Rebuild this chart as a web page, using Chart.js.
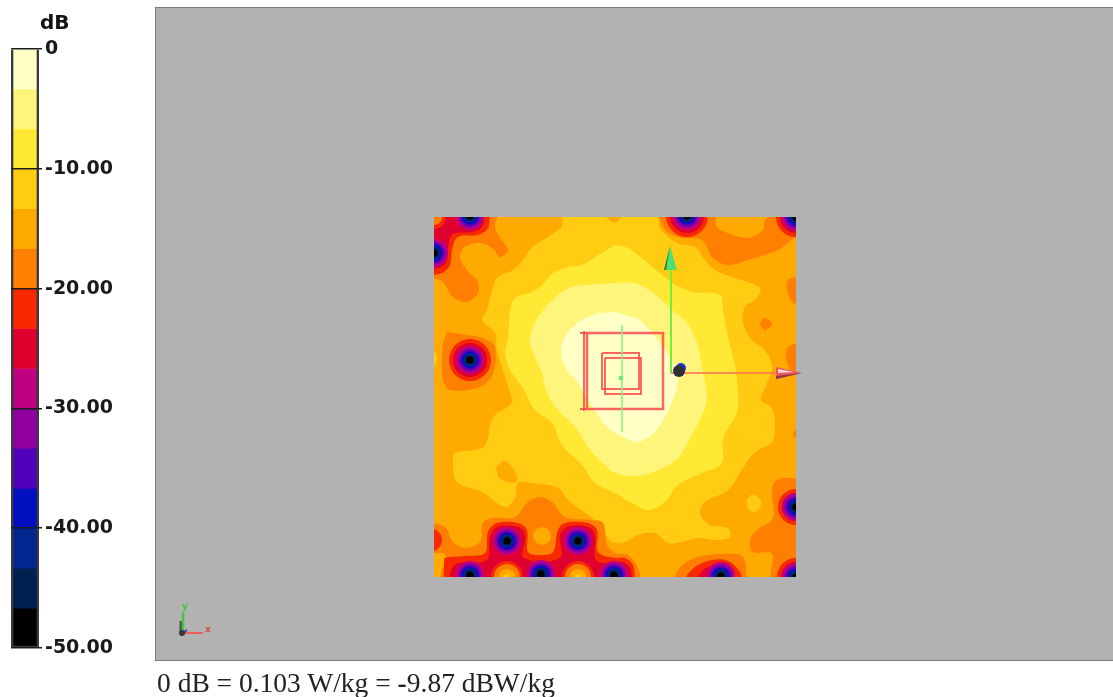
<!DOCTYPE html>
<html>
<head>
<meta charset="utf-8">
<title>SAR area scan</title>
<script src="https://cdn.jsdelivr.net/npm/chart.js@4/dist/chart.umd.min.js"></script>
<style>
  html, body { margin: 0; padding: 0; background: #fff; overflow: hidden; }
  canvas { filter: blur(0.45px); }
  #barBox { position: absolute; left: 0; top: 0; width: 130px; height: 697px; }
  #panel { position: absolute; left: 155px; top: 7px; width: 958px; height: 652px;
           border: 1px solid #7c7c7c; border-right: none; background: #b2b2b2; }
  #dbLabel { position: absolute; left: 40px; top: 10px; font: bold 20px "DejaVu Sans"; color: #111; filter: blur(0.3px); }
  #footer { position: absolute; left: 157px; top: 667px; font: 27.5px "Liberation Serif"; color: #222; white-space: nowrap; filter: blur(0.3px); }
  .axisLetter { position: absolute; font: bold 9px "DejaVu Sans"; }
</style>
</head>
<body>
<div id="barBox"><canvas id="barChart" width="130" height="697"></canvas></div>
<div id="dbLabel">dB</div>
<div id="panel"><canvas id="scanChart" width="957" height="652"></canvas></div>
<span class="axisLetter" style="left:182px;top:601px;color:#38c838">y</span>
<span class="axisLetter" style="left:205px;top:624px;color:#e04848">x</span>
<div id="footer">0 dB = 0.103 W/kg = <b>-</b>9.87 dBW/kg</div>

<script>
// Colour scale, one band per 10/3 dB
const bandEdges = [0, -3.33, -6.67, -10, -13.33, -16.67, -20, -23.33, -26.67, -30, -33.33, -36.67, -40, -43.33, -46.67, -50];
const bandColors = ["#FFFFC6", "#FFF57A", "#FFE935", "#FFCC11", "#FFAA00", "#FF7F00", "#F82800", "#E00030",
  "#C00080", "#9000A0", "#5000B8", "#0010C0", "#002890", "#002050", "#000000"];
const barTicks = [0, -10, -20, -30, -40, -50];

// Scan area, in tenths of a mm from its lower left corner
const scanBox = [[0, 0], [0, 360], [362, 360], [362, 0]];
const panelBox = [[-278, -83], [679, -83], [679, 569], [-278, 569], [-278, -83]];

// Iso-level outlines
const above3 = [[181,265],[198,260],[206,257],[229,230],[239,214],[243,207],[243,190],[238,175],[231,160],[221,145],[204,135],[188,140],[181,144],[171,152],[154,177],[144,194],[131,210],[127,227],[133,244],[148,257],[164,264]];
const above7 = [[181,294],[201,294],[218,285],[238,267],[253,254],[263,234],[268,210],[273,180],[268,162],[256,139],[244,119],[224,107],[201,101],[181,104],[174,109],[158,125],[141,150],[124,167],[113,184],[108,204],[98,227],[96,240],[104,260],[124,282],[138,291]];
const above10 = [[181,332],[194,329],[226,304],[238,294],[259,285],[286,282],[289,267],[293,244],[299,220],[303,197],[303,165],[289,139],[288,114],[268,104],[244,92],[231,75],[214,67],[198,74],[181,84],[161,94],[148,112],[128,132],[118,154],[101,167],[88,190],[76,207],[71,224],[74,240],[76,264],[81,279],[98,285],[108,292],[119,304],[134,310],[148,312],[161,320]];
const above13 = [[129,362],[168,362],[181,354],[191,362],[223,362],[226,349],[243,334],[261,330],[271,317],[281,307],[301,299],[326,289],[323,279],[311,270],[309,254],[318,237],[331,227],[338,210],[333,194],[327,177],[338,169],[341,152],[338,135],[321,125],[309,109],[294,87],[271,75],[266,64],[276,52],[294,49],[296,40],[284,37],[264,39],[248,35],[234,34],[221,44],[204,42],[191,35],[181,34],[174,39],[158,59],[134,77],[124,89],[98,94],[84,94],[81,79],[71,70],[48,85],[23,95],[19,115],[21,124],[48,129],[54,139],[56,152],[61,162],[76,172],[78,177],[71,200],[63,227],[61,244],[48,257],[53,267],[58,287],[64,300],[79,307],[89,317],[98,330],[114,340],[128,350]];
const islands13 = [
  [[62,110],[71,116],[80,107],[83,96],[73,95],[64,100]]
];
const islandsAbove13 = [
  [[313,77],[319,83],[327,75],[324,67],[318,65],[313,70]],
  [[348,37],[353,40],[358,38],[354,34],[349,34]],
  [[-3,232],[3,219],[-3,204]]
];
const below17 = [
  [[0,299],[9,295],[19,280],[33,275],[44,284],[44,295],[33,307],[26,320],[31,330],[46,334],[58,329],[66,320],[74,327],[66,339],[61,350],[63,365],[-5,365],[-5,299]],
  [[13,245],[33,242],[49,239],[61,230],[59,204],[46,190],[16,187],[9,197],[8,220],[9,234]],
  [[223,365],[233,345],[249,339],[268,337],[279,319],[294,312],[314,317],[344,327],[361,339],[367,339],[367,365],[341,365],[331,357],[329,347],[314,339],[294,344],[283,350],[281,365]],
  [[365,300],[354,297],[353,287],[358,275],[365,272]],
  [[365,234],[354,230],[352,220],[356,207],[365,200]],
  [[325,253],[331,259],[338,253],[331,246]],
  [[365,150],[359,143],[365,135]],
  [[365,99],[343,97],[338,85],[339,59],[323,47],[316,37],[319,25],[338,23],[338,-5],[367,-5],[367,99]],
  [[238,-5],[248,12],[264,20],[288,23],[309,20],[313,-5]],
  [[-5,55],[11,50],[19,35],[31,29],[46,35],[49,54],[59,59],[81,60],[94,75],[106,80],[118,75],[131,60],[158,57],[169,54],[173,32],[181,24],[194,22],[204,9],[205,-5],[9,-5],[11,22],[-5,24]]
];
const below20 = [
  [[56,365],[54,349],[44,342],[24,340],[18,327],[16,312],[8,304],[-5,304],[-5,365]],
  [[10,-5],[10,15],[11,19],[31,21],[51,24],[54,45],[63,54],[84,54],[93,47],[94,25],[106,22],[119,25],[124,47],[131,54],[154,54],[163,47],[164,25],[181,19],[191,19],[199,12],[201,-5]],
  [[248,-5],[261,10],[278,17],[294,16],[306,5],[309,-5]]
];
const below23 = [
  [[51,365],[48,350],[38,345],[19,343],[14,329],[12,314],[4,309],[-5,309],[-5,365]],
  [[15,-5],[18,9],[24,14],[53,17],[56,40],[63,50],[84,50],[91,42],[90,19],[126,19],[126,42],[133,50],[154,50],[161,42],[162,17],[181,14],[189,15],[196,9],[198,-5]],
  [[261,-5],[269,7],[281,12],[294,12],[303,-5]]
];

// Warmer pockets between the minima
const pocketsRed = [[73,0],[144,0],[0,360],[-3,37]];
const pocketsOrange = [[73,0],[144,0],[0,360]];
const pocketsAmber = [[73,0],[144,0],[108,41]];
const pocketsGold = [[73,0],[144,0]];

// Field minima, the first ones with their red rim as plain rings
const rimMinima = [[36,217],[253,361],[362,70],[362,0],[362,360]];
const innerMinima = [[0,324],[36,361],[287,1],[36,2],[107,3],[180,2],[73,36],[144,36]];

// Overlay: scan frames, probe axes and the small triad
const frameOuter = [[153,244],[229,244],[229,168],[153,168],[153,244]];
const frameOuterLeft = [[150,246],[150,166]];
const frameOuterTop = [[146,244],[153,244]];
const frameOuterBottom = [[146,168],[153,168]];
const frameInnerA = [[168,224],[205,224],[205,188],[168,188],[168,224]];
const frameInnerB = [[171,219],[207,219],[207,183],[171,183],[171,219]];
const scanAxis = [[188,252],[188,145]];
const scanCentre = [[187,199]];
const axisY = [[237,204],[237,307]];
const axisX = [[237,204],[344,204]];
const coneY = [[236,331],[243,307],[230,307]];
const coneYShade = [[236,331],[232,307],[230,307]];
const coneX = [[368,204],[342,210],[342,198]];
const coneXLight = [[360,205],[344,208],[344,204]];
const coneXShade = [[368,204],[342,201],[342,198]];
const probeBlack = [[245,206]];
const probeBlue = [[247,209]];
const triadY = [[-251,-35],[-251,-56]];
const triadX = [[-251,-56],[-231,-56]];
const triadZ = [[-251,-56],[-247,-53]];
const triadBase = [[-252,-56]];
const triadShade = [[-253,-44],[-253,-57]];

function toXY(list) {
  return list.map(p => ({ x: p[0], y: p[1] }));
}

// Filled iso-level outline
function area(list, color, tension = 0.35) {
  return { data: toXY(list), showLine: true, fill: "shape", backgroundColor: color,
    borderWidth: 0, pointRadius: 0, tension: tension };
}

function line(list, color, width) {
  return { data: toXY(list), showLine: true, borderColor: color, borderWidth: width, pointRadius: 0 };
}

function dots(list, color, radius, style = "circle") {
  return { data: toXY(list), showLine: false, backgroundColor: color, pointBackgroundColor: color,
    pointBorderWidth: 0, pointRadius: radius, pointStyle: style };
}

const redLine = "rgba(255,64,72,0.8)";

// Painter's order, the list is reversed below since Chart.js draws the first dataset last
const layers = [
  area(scanBox, bandColors[4], 0),
  area(above13, bandColors[3]),
  area(above10, bandColors[2]),
  area(above7, bandColors[1]),
  area(above3, bandColors[0]),
  ...islands13.map(p => area(p, bandColors[4])),
  ...islandsAbove13.map(p => area(p, bandColors[3])),
  ...below17.map(p => area(p, bandColors[5])),
  ...below20.map(p => area(p, bandColors[6])),
  ...below23.map(p => area(p, bandColors[7])),
  dots(pocketsRed, bandColors[6], [16, 16, 12, 11]),
  dots(pocketsOrange, bandColors[5], [13, 13, 8]),
  dots(pocketsAmber, bandColors[4], [8, 8, 9]),
  dots(pocketsGold, bandColors[3], 3),
  dots(rimMinima, bandColors[6], [21, 21, 18, 19, 20]),
  dots(rimMinima, bandColors[7], [17, 17, 14, 15, 16]),
  dots(rimMinima.concat(innerMinima), bandColors[8], 14),
  dots(rimMinima.concat(innerMinima), bandColors[9], 12),
  dots(rimMinima.concat(innerMinima), bandColors[10], 10),
  dots(rimMinima.concat(innerMinima), bandColors[11], 8),
  dots(rimMinima.concat(innerMinima), bandColors[12], 6.5),
  dots(rimMinima.concat(innerMinima), bandColors[13], 5),
  dots(rimMinima.concat(innerMinima), bandColors[14], 3.5),
  // Grey panel with the scan area left open, trims the outlines at its edges
  area(panelBox.concat([[0,0],[0,360],[362,360],[362,0],[0,0],[-278,-83]]), "#b2b2b2", 0),
  line(frameOuter, redLine, 2.5),
  line(frameOuterLeft, redLine, 2),
  line(frameOuterTop, redLine, 2),
  line(frameOuterBottom, redLine, 2),
  line(frameInnerA, redLine, 2),
  line(frameInnerB, redLine, 2),
  line(scanAxis, "rgba(130,240,130,0.75)", 2),
  dots(scanCentre, "#66ee77", 3, "rect"),
  line(axisY, "#72ee40", 2),
  line(axisX, "rgba(255,110,80,0.75)", 2),
  area(coneY, "#50e070", 0),
  area(coneYShade, "#2c7a3c", 0),
  area(coneX, "#e85a60", 0),
  area(coneXLight, "#ffd4d4", 0),
  area(coneXShade, "#8a3a40", 0),
  dots(probeBlue, "#2038e0", 5),
  dots(probeBlack, "#303038", 6),
  line(triadShade, "#505050", 3),
  line(triadY, "#40c840", 2.5),
  line(triadX, "#e86060", 2),
  line(triadZ, "#3040e0", 2),
  dots(triadBase, "#383838", 3)
];

new Chart(document.getElementById("scanChart"), {
  type: "scatter",
  data: { datasets: layers.reverse() },
  options: {
    responsive: false,
    animation: false,
    layout: { padding: 0, autoPadding: false },
    plugins: { legend: { display: false }, tooltip: { enabled: false } },
    scales: {
      x: { type: "linear", min: -278, max: 679, display: false },
      y: { type: "linear", min: -83, max: 569, display: false }
    }
  }
});

// Colour bar as floating bars, with a frame bar on top
const barSets = bandColors.map((c, i) => ({
  data: [[bandEdges[i + 1], bandEdges[i]]],
  backgroundColor: c,
  borderWidth: 0,
  barPercentage: 1,
  categoryPercentage: 1,
  order: 2
}));
barSets.push({
  data: [[bandEdges[15], bandEdges[0]]],
  backgroundColor: "rgba(0,0,0,0)",
  borderColor: "#3a3a3a",
  borderWidth: 2,
  barPercentage: 1,
  categoryPercentage: 1,
  order: 1
});

new Chart(document.getElementById("barChart"), {
  type: "bar",
  data: { labels: ["dB"], datasets: barSets },
  options: {
    responsive: false,
    animation: false,
    layout: { padding: { left: 11, top: 49, bottom: 49 } },
    plugins: { legend: { display: false }, tooltip: { enabled: false } },
    scales: {
      x: { display: false, stacked: true },
      y: {
        position: "right",
        min: -50,
        max: 0,
        afterFit: s => { s.width = 91; },
        afterBuildTicks: s => { s.ticks = barTicks.map(v => ({ value: v })); },
        border: { display: false },
        grid: { color: "#1c1c1c", lineWidth: 1.5, z: 1, tickLength: 3 },
        ticks: {
          color: "#1a1a1a",
          padding: 3,
          maxRotation: 0,
          autoSkip: false,
          font: { family: "DejaVu Sans", weight: "bold", size: 19 },
          callback: v => (v === 0 ? "0" : v.toFixed(2))
        }
      }
    }
  }
});
</script>
</body>
</html>
